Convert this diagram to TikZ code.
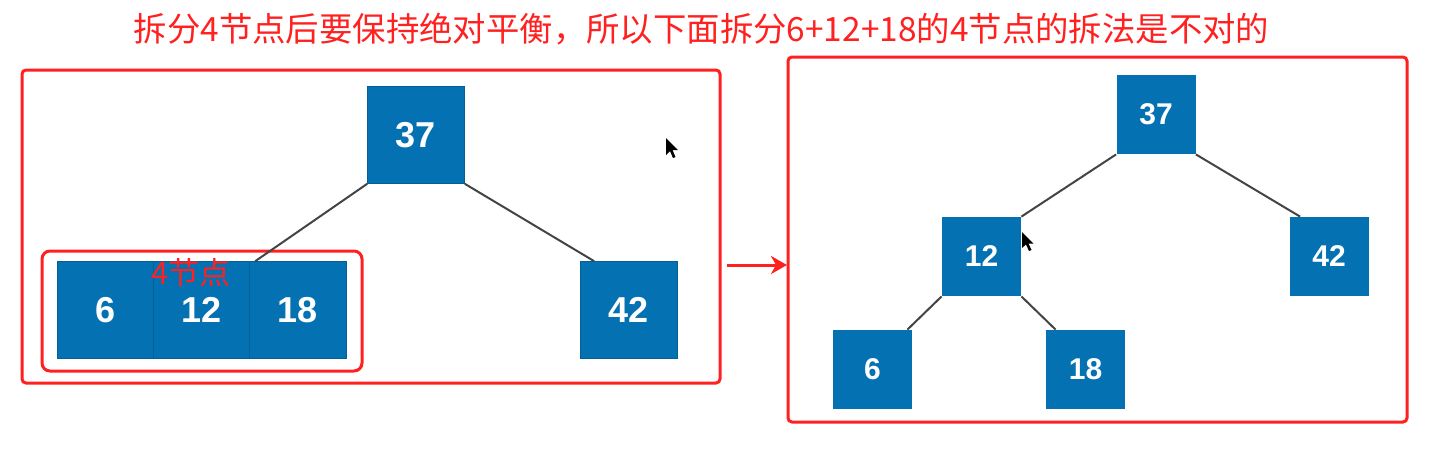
\documentclass[tikz,border=0pt]{standalone}
\usepackage{fontspec}
\setmainfont{Liberation Sans}
\newfontfamily\cjk{Noto Sans CJK SC}
\usepackage{tikz}
\usetikzlibrary{arrows.meta}
\definecolor{boxblue}{RGB}{4,113,178}
\definecolor{markred}{RGB}{255,32,32}
\definecolor{edgegray}{RGB}{68,68,68}

\begin{document}
\begin{tikzpicture}[x=0.5pt,y=-0.5pt,
		bigbox/.style={fill=boxblue,draw=boxblue!85!black,line width=0.3pt,inner sep=0pt,minimum size=48.5pt,text=white,font=\fontsize{18}{18}\selectfont\bfseries},
		smallbox/.style={fill=boxblue,inner sep=0pt,minimum size=39.5pt,text=white,font=\fontsize{15}{15}\selectfont\bfseries},
		frame/.style={draw=markred,line width=1.5pt,rounded corners=2pt},
		treeedge/.style={draw=edgegray,line width=1pt},
		pointer/.style={fill=black}]
		\useasboundingbox (0,0) rectangle (1432,463);
		\node [text=markred,font=\cjk\fontsize{16.7}{16.7}\selectfont] (title) at (701.5,29) {拆分4节点后要保持绝对平衡，所以下面拆分6+12+18的4节点的拆法是不对的};
		\draw [frame] (22,70) rectangle (720,383);
		\draw [frame,rounded corners=4pt] (42,251) rectangle (362,371);
		\draw [frame] (788,57) rectangle (1407,422);
		\node [bigbox] (l37) at (416,135) {37};
		\node [bigbox] (l6) at (106,310) {6};
		\node [bigbox] (l12) at (202,310) {12};
		\node [bigbox] (l18) at (298,310) {18};
		\node [bigbox] (l42) at (629,310) {42};
		\draw [treeedge] (l37.south west) -- ([xshift=3pt]l18.north west);
		\draw [treeedge] (l37.south east) -- ([xshift=7pt]l42.north west);
		\node [text=markred,font=\cjk\fontsize{15.5}{15.5}\selectfont,inner sep=0pt] (four) at (191,273) {4节点};
		\node [smallbox] (r37) at (1156,114.5) {37};
		\node [smallbox] (r12) at (981.5,256.5) {12};
		\node [smallbox] (r42) at (1329,256.5) {42};
		\node [smallbox] (r6) at (872.5,369.5) {6};
		\node [smallbox] (r18) at (1085.5,369.5) {18};
		\draw [treeedge] (r37.south west) -- (r12.north east);
		\draw [treeedge] (r37.south east) -- ([xshift=5.5pt]r42.north west);
		\draw [treeedge] (r12.south west) -- ([xshift=-2.5pt]r6.north east);
		\draw [treeedge] (r12.south east) -- ([xshift=5pt]r18.north west);
		\coordinate (arrowtail) at (727,265);
		\coordinate (arrowhead) at (787,265);
		\draw [draw=markred,line width=1.5pt,-{Stealth[length=8pt,width=9pt,inset=2.5pt]}] (arrowtail) -- (arrowhead);
		\fill [pointer] (666,138) -- (666,155) -- (670,151) -- (673,158) -- (675.5,157) -- (672.5,150) -- (678,150) -- cycle;
		\fill [pointer] (1022,232) -- (1022,248) -- (1026,244.5) -- (1029,251) -- (1031.5,250) -- (1028.5,243.5) -- (1033.5,243.5) -- cycle;
	\end{tikzpicture}
\end{document}
